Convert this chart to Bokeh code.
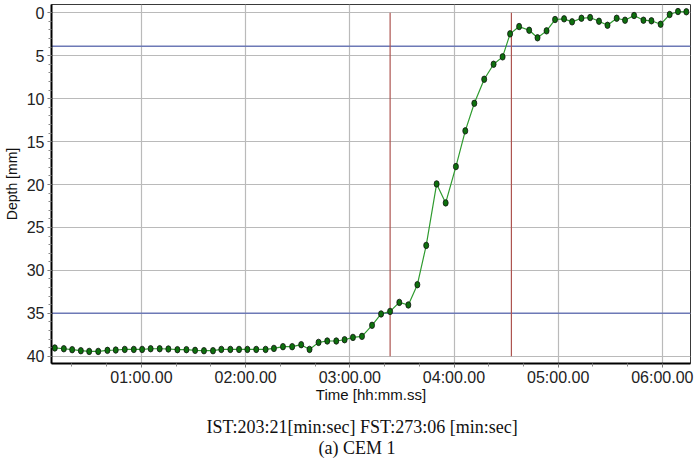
from bokeh.plotting import figure
from bokeh.models import Range1d, FixedTicker, Title, Span
from bokeh.embed import file_html
from bokeh.resources import INLINE

# ---- data ----
time_s = [10.1, 15.3, 20.1, 25.1, 29.9, 35.1, 40.4, 45.2, 50.4, 55.6,
          60.4, 65.3, 70.5, 75.5, 80.7, 85.9, 90.9, 96.0, 101.2,
          106.0, 111.2, 116.2, 121.0, 126.1, 131.5, 136.3, 141.5, 146.8,
          152.0, 156.8, 162.0, 167.0, 172.2, 177.0, 181.8, 187.0,
          192.8, 198.0, 203.2, 208.5, 213.7, 218.9, 224.0, 230.0, 235.2,
          241.1, 246.5, 251.7, 257.4, 262.8, 268.0, 272.3, 277.5,
          283.3, 288.1, 293.3, 298.2, 303.4, 308.0, 313.4, 318.4, 323.5,
          328.4, 333.7, 338.5, 343.7, 349.1, 353.7, 359.0, 364.2, 369.0, 373.8]
depth_mm = [39.04, 39.13, 39.24, 39.36, 39.44, 39.44, 39.32, 39.28, 39.21, 39.21,
            39.21, 39.13, 39.13, 39.16, 39.24, 39.24, 39.32, 39.36, 39.36,
            39.21, 39.21, 39.21, 39.21, 39.21, 39.21, 39.09, 38.89, 38.89,
            38.66, 39.21, 38.39, 38.23, 38.23, 38.08, 37.81, 37.69,
            36.40, 35.08, 34.78, 33.73, 34.03, 31.67, 27.09, 19.93, 22.14,
            17.91, 13.75, 10.54, 7.74, 5.99, 5.13, 2.45, 1.60,
            2.03, 2.91, 2.10, 0.78, 0.70, 1.05, 0.63, 0.55, 0.98,
            1.45, 0.63, 0.86, 0.31, 0.86, 0.93, 1.33, 0.20, -0.15, -0.12]

x_tick_s = [60, 120, 180, 240, 300, 360]
x_tick_labels = ["01:00.00", "02:00.00", "03:00.00", "04:00.00", "05:00.00", "06:00.00"]
x_minor_s = [20, 40, 80, 100, 140, 160, 200, 220, 260, 280, 320, 340, 380]
y_ticks = [0, 5, 10, 15, 20, 25, 30, 35, 40]
y_minor = list(range(0, 41))

ist_s = 203.21
fst_s = 273.06
marker_top_mm = 0
marker_bottom_mm = 40
upper_ref_mm = 3.9
lower_ref_mm = 35.0

x_title = "Time [hh:mm.ss]"
y_title = "Depth [mm]"
caption1 = "IST:203:21[min:sec] FST:273:06 [min:sec]"
caption2 = "(a) CEM 1"

SANS = "Liberation Sans"
SERIF = "Liberation Serif"

p = figure(width=694, height=458, output_backend="svg", toolbar_location=None,
           x_range=Range1d(8.2, 376.2), y_range=Range1d(40.85, -0.97),
           min_border_left=50, min_border_right=4, min_border_top=4, min_border_bottom=95)
p.background_fill_color = "white"
p.border_fill_color = "white"
p.outline_line_color = "#3a3a3a"
p.outline_line_width = 1

# axes
p.xaxis.ticker = FixedTicker(ticks=x_tick_s, minor_ticks=x_minor_s)
p.xaxis.major_label_overrides = {t: l for t, l in zip(x_tick_s, x_tick_labels)}
p.yaxis.ticker = FixedTicker(ticks=y_ticks, minor_ticks=y_minor)

for ax in (p.xaxis, p.yaxis):
    ax.axis_line_color = "black"
    ax.axis_line_width = 2
    ax.major_tick_in = 0
    ax.major_tick_out = 4
    ax.minor_tick_in = 0
    ax.minor_tick_out = 3
    ax.major_tick_line_color = "#777777"
    ax.minor_tick_line_color = "#888888"
    ax.major_label_text_font = SANS
    ax.major_label_text_font_size = "16px"
    ax.major_label_text_color = "#222222"
    ax.axis_label_text_font = SANS
    ax.axis_label_text_font_style = "normal"
    ax.axis_label_text_color = "#111111"

p.xaxis.axis_label = x_title
p.xaxis.axis_label_text_font_size = "15px"
p.xaxis.major_label_standoff = 1
p.xaxis.axis_label_standoff = -3
p.yaxis.axis_label = y_title
p.yaxis.axis_label_text_font_size = "14px"
p.yaxis.major_label_standoff = 3
p.yaxis.axis_label_standoff = 4

p.xgrid.ticker = FixedTicker(ticks=x_tick_s)
p.ygrid.ticker = FixedTicker(ticks=y_ticks)
p.grid.grid_line_color = "#bababa"
p.grid.grid_line_width = 1.2

# reference bands
for loc in (upper_ref_mm, lower_ref_mm):
    p.add_layout(Span(location=loc, dimension="width", line_color="#6d79b6",
                      line_width=1.5, level="underlay"))

# IST / FST markers
p.segment(x0=[ist_s, fst_s], y0=[marker_top_mm, marker_top_mm],
          x1=[ist_s, fst_s], y1=[marker_bottom_mm, marker_bottom_mm],
          line_color="#ad5450", line_width=1.2)

# data
p.line(time_s, depth_mm, line_color="#2f9b2f", line_width=1.2)
p.ellipse(time_s, depth_mm, width=5, height=6.5, width_units="screen",
          height_units="screen", fill_color="#0d700d", line_color="#111111",
          line_width=0.8)

# captions
p.add_layout(Title(text=caption1, align="left", offset=155, text_font=SERIF,
                   text_font_size="18px", text_font_style="normal",
                   text_color="#111111", standoff=19), "below")
p.add_layout(Title(text=caption2, align="left", offset=267, text_font=SERIF,
                   text_font_size="18px", text_font_style="normal",
                   text_color="#111111", standoff=-21), "below")

open("out.html", "w").write(file_html(p, INLINE))
